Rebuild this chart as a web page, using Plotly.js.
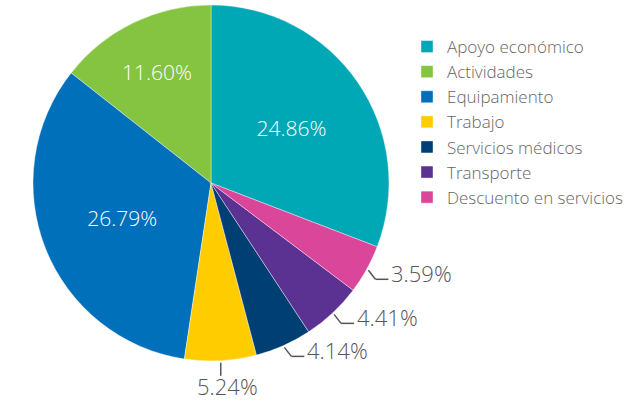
<!DOCTYPE html>
<html>
<head>
<meta charset="utf-8">
<script src="https://cdn.plot.ly/plotly-3.0.1.min.js"></script>
<style>html,body{margin:0;padding:0;background:#fff;}#chart{width:636px;height:402px;}</style>
</head>
<body>
<div id="chart"></div>
<script>
const labels = ['Apoyo económico','Actividades','Equipamiento','Trabajo','Servicios médicos','Transporte','Descuento en servicios'];
const values = [24.86, 11.60, 26.79, 5.24, 4.14, 4.41, 3.59];
const colors = ['#00A8B6','#85C441','#0070BA','#FFCC00','#003F73','#5B3192','#DA4699'];

const W = 636, H = 402;
const CX = 211, CY = 183, R = 178;
const FONT = '"Open Sans", Lato, sans-serif';

const total = values.reduce((a, b) => a + b, 0);

// mid angles (clockwise from 12 o'clock); with rotation 0 and counterclockwise
// direction, the first slice ends at 12 o'clock
const mids = [];
let cur = 360 * values[0] / total;
values.forEach(v => {
  const span = 360 * v / total;
  mids.push(cur - span / 2);
  cur -= span;
});

const px = x => x / W;
const py = y => 1 - y / H;

const LINE = {color: '#555555', width: 1.5};
const LBL = {family: FONT, size: 22, color: '#555555', weight: 300};
const shapes = [];
const annotations = [];
values.forEach((v, i) => {
  if (v >= 10) return;
  const a = mids[i] * Math.PI / 180;
  const s = Math.sin(a), c = Math.cos(a);
  const sx = CX + (R + 2) * s, sy = CY - (R + 2) * c;
  const txt = v.toFixed(2) + '%';
  if (Math.abs(s) < 0.25) {
    const ey = sy + 13;
    shapes.push({type: 'line', xref: 'paper', yref: 'paper', x0: px(sx), y0: py(sy), x1: px(sx), y1: py(ey), line: LINE});
    annotations.push({xref: 'paper', yref: 'paper', x: px(sx + 7), y: py(ey + 10), xanchor: 'center', yanchor: 'middle', text: txt, showarrow: false, font: LBL});
  } else {
    const ex = sx + 7, ey = sy + 9, hx = ex + 13;
    shapes.push({type: 'line', xref: 'paper', yref: 'paper', x0: px(sx), y0: py(sy), x1: px(ex), y1: py(ey), line: LINE});
    shapes.push({type: 'line', xref: 'paper', yref: 'paper', x0: px(ex), y0: py(ey), x1: px(hx), y1: py(ey), line: LINE});
    annotations.push({xref: 'paper', yref: 'paper', x: px(hx + 1), y: py(ey - 6), xanchor: 'left', yanchor: 'middle', text: txt, showarrow: false, font: LBL});
  }
});

const trace = {
  type: 'pie',
  labels: labels,
  values: values,
  sort: false,
  direction: 'counterclockwise',
  rotation: 0,
  marker: {colors: colors, line: {color: '#ffffff', width: 0.4}},
  textinfo: 'value',
  texttemplate: '%{value:.2f}%',
  textposition: values.map(v => v >= 10 ? 'inside' : 'none'),
  insidetextorientation: 'horizontal',
  insidetextfont: {family: FONT, size: 21, color: '#ffffff', weight: 300},
  hoverinfo: 'label+value',
  domain: {x: [px(CX - R), px(CX + R)], y: [py(CY + R), py(CY - R)]},
  automargin: false
};

const layout = {
  width: W, height: H,
  margin: {l: 0, r: 0, t: 0, b: 0},
  paper_bgcolor: '#ffffff',
  showlegend: true,
  legend: {x: px(407), y: py(29), xanchor: 'left', yanchor: 'top', font: {family: FONT, size: 17, color: '#666666', weight: 300}, bgcolor: 'rgba(0,0,0,0)'},
  shapes: shapes,
  annotations: annotations
};

Plotly.newPlot('chart', [trace], layout, {displayModeBar: false, staticPlot: true});
</script>
</body>
</html>
